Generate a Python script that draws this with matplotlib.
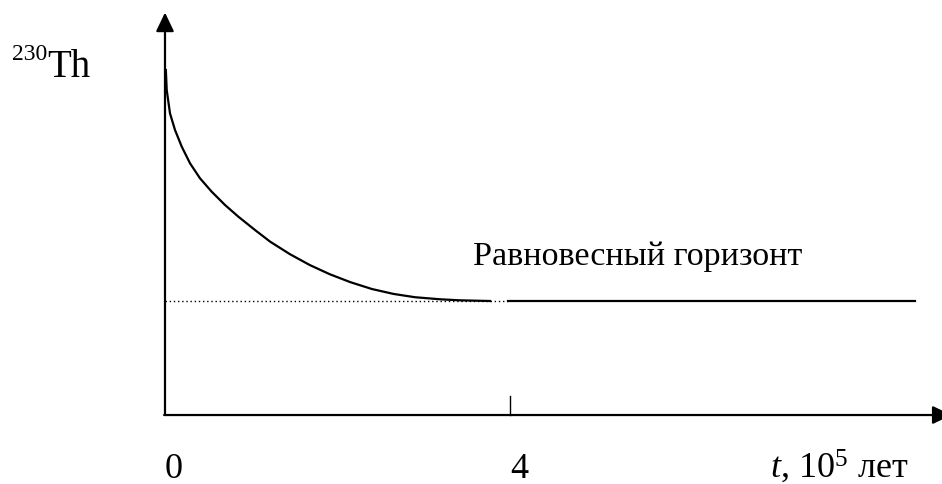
import matplotlib
matplotlib.use('Agg')
import matplotlib.pyplot as plt

plt.rcParams['font.family'] = ['Liberation Serif', 'DejaVu Serif']
plt.rcParams['mathtext.fontset'] = 'custom'
plt.rcParams['mathtext.rm'] = 'Liberation Serif'
plt.rcParams['mathtext.it'] = 'Liberation Serif:italic'

# decay of 230Th toward the equilibrium level, t in 10^5 years
t = [0.01, 0.02, 0.058, 0.116, 0.194, 0.29, 0.406, 0.541, 0.696, 0.85,
     1.043, 1.22, 1.45, 1.68, 1.91, 2.15, 2.40, 2.65, 2.90, 3.19, 3.42, 3.77]
th = [3.026, 2.851, 2.646, 2.50, 2.354, 2.208, 2.076, 1.959, 1.842, 1.74,
      1.623, 1.52, 1.41, 1.315, 1.235, 1.165, 1.105, 1.062, 1.033, 1.015,
      1.006, 1.0]

level = 1.0
dotted_x = [0.0, 3.98]
solid_x = [3.98, 8.7]
tick_pos = [0, 4]
tick_labels = ['0', '4']

fig = plt.figure(figsize=(9.42, 4.84), dpi=100)
ax = fig.add_axes([0, 0, 1, 1])
ax.set_xlim(-1.913, 9.009)
ax.set_ylim(-0.605, 3.640)
ax.axis('off')

# axes with arrow heads
arrow = dict(arrowstyle='-|>,head_length=1.15,head_width=0.55', lw=1.6,
             color='black', shrinkA=0, shrinkB=0, mutation_scale=10)
ax.annotate('', xy=(0, 3.53), xytext=(0, 0), arrowprops=arrow,
            annotation_clip=False)
ax.annotate('', xy=(9.12, 0), xytext=(-0.01, 0), arrowprops=arrow,
            annotation_clip=False)

# tick at t = 4
ax.plot([4, 4], [0, 0.167], color='black', lw=1.0)

# equilibrium level
ax.plot(dotted_x, [level, level], color='black', lw=1.0, linestyle=(0, (1, 2)))
ax.plot(solid_x, [level, level], color='black', lw=1.6)

# decay curve
ax.plot(t, th, color='black', lw=1.6, solid_joinstyle='round')

for x, lab in zip(tick_pos, tick_labels):
    ax.text(x, -0.55, lab, fontsize=26, ha='left', va='baseline')
ax.text(7.02, -0.55, r'$t$, 10$^5$ лет', fontsize=26, ha='left', va='baseline')
ax.text(3.57, 1.316, 'Равновесный горизонт', fontsize=24.5, ha='left',
        va='baseline')

fig.text(12 / 942, 1 - 60 / 484, '230', fontsize=17, ha='left', va='baseline')
fig.text(47 / 942, 1 - 77 / 484, 'Th', fontsize=28, ha='left', va='baseline')

fig.savefig('out.png', dpi=100, facecolor='white')
